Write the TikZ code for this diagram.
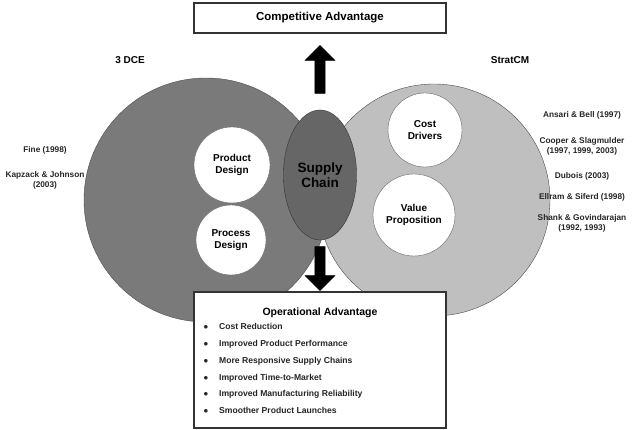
\documentclass[tikz,border=0pt]{standalone}
\usepackage{fontspec}
\setmainfont{Liberation Sans}
\usetikzlibrary{shapes.geometric,shapes.arrows}
\begin{document}
\begin{tikzpicture}[x=1pt,y=-1pt,
  ref/.style={font=\fontsize{8.3}{10}\selectfont\bfseries,align=center,text=black!85},
  inner/.style={circle,draw=black!60,fill=white,font=\fontsize{10}{11.5}\selectfont\bfseries,align=center,inner sep=0pt},
  box/.style={draw=black!80,line width=1.2pt,fill=white},
  barrow/.style={single arrow,fill=black,draw=black,minimum height=48pt,minimum width=30pt,single arrow head extend=6pt,inner sep=3pt}]
\useasboundingbox (0,0) rectangle (640,430);
\node[box,minimum width=252pt,minimum height=30pt,font=\fontsize{11.5}{13}\selectfont\bfseries] (top) at (320,18) {Competitive Advantage};
\node[barrow,shape border rotate=90] (up) at (320,72) {};
\node[circle,draw=black!70,fill=black!52,minimum size=244pt] (left) at (206,200) {};
\node[circle,draw=black!70,fill=black!25,minimum size=232pt] (right) at (434,200) {};
\node[ellipse,draw=black!80,fill=black!60,minimum width=70pt,minimum height=130pt,font=\fontsize{13.5}{15}\selectfont\bfseries,align=center] (sc) at (320,175) {Supply\\Chain};
\node[inner,minimum size=76pt] (pd) at (232,165) {Product\\Design};
\node[inner,minimum size=70pt] (prd) at (231,240) {Process\\Design};
\node[inner,minimum size=74pt] (cd) at (425,130) {Cost\\Drivers};
\node[inner,minimum size=82pt] (vp) at (414,215) {Value\\Proposition};
\node[barrow,shape border rotate=270,minimum height=44pt] (down) at (320,266) {};
\node[box,minimum width=252pt,minimum height=136pt] (bot) at (320,360) {};
\node[font=\fontsize{10.5}{12}\selectfont\bfseries] (oat) at (320,313) {Operational Advantage};
\node[anchor=north west,font=\fontsize{8.6}{16.8}\selectfont\bfseries,align=left,text=black!85] (list) at (200,320)
 {$\bullet$\hspace{11pt}Cost Reduction\\ $\bullet$\hspace{11pt}Improved Product Performance\\ $\bullet$\hspace{11pt}More Responsive Supply Chains\\ $\bullet$\hspace{11pt}Improved Time-to-Market\\ $\bullet$\hspace{11pt}Improved Manufacturing Reliability\\ $\bullet$\hspace{11pt}Smoother Product Launches};
\node[font=\fontsize{10}{12}\selectfont\bfseries] (dce) at (130,60) {3 DCE};
\node[font=\fontsize{10}{12}\selectfont\bfseries] (scm) at (510,60) {StratCM};
\node[ref] (fine) at (45,150) {Fine (1998)};
\node[ref] (kap) at (45,180) {Kapzack \& Johnson\\(2003)};
\node[ref] (r1) at (582,115) {Ansari \& Bell (1997)};
\node[ref] (r2) at (582,146) {Cooper \& Slagmulder\\(1997, 1999, 2003)};
\node[ref] (r3) at (582,176) {Dubois (2003)};
\node[ref] (r4) at (582,197) {Ellram \& Siferd (1998)};
\node[ref] (r5) at (582,223) {Shank \& Govindarajan\\(1992, 1993)};
\end{tikzpicture}
\end{document}
